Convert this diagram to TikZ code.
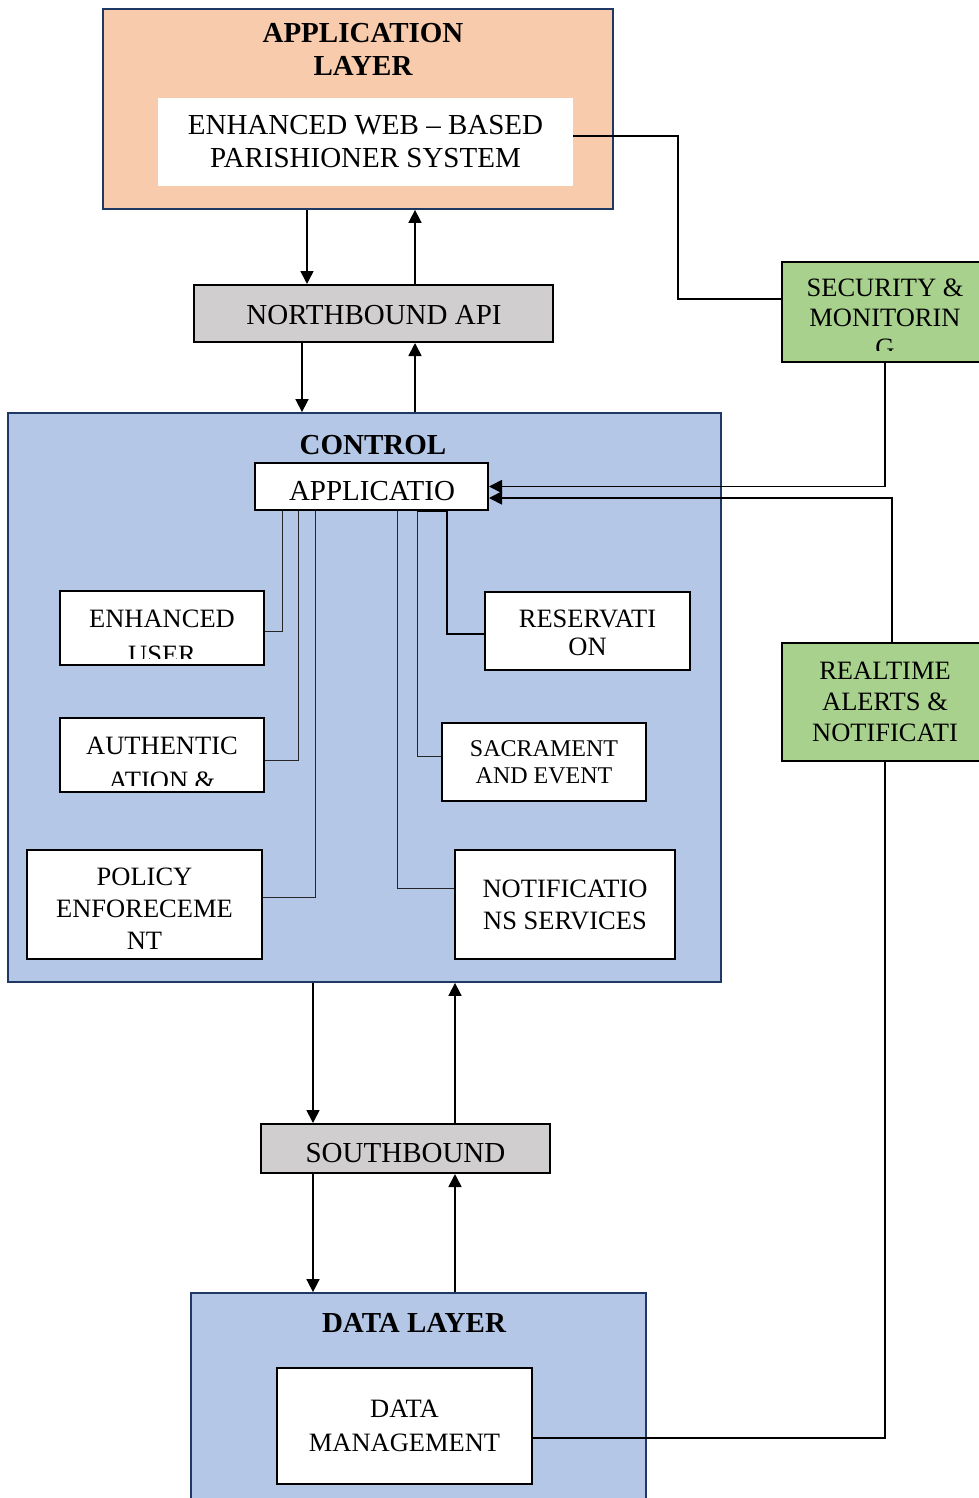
\documentclass[tikz,border=0pt]{standalone}
\usepackage{fontspec}
\setmainfont{Liberation Serif}
\usetikzlibrary{arrows.meta}
\definecolor{appfill}{HTML}{F8CBAD}
\definecolor{ctrlfill}{HTML}{B4C7E7}
\definecolor{secfill}{HTML}{A9D18E}
\definecolor{apifill}{HTML}{D0CECE}
\definecolor{layerline}{HTML}{1F3864}
\tikzset{
  layer/.style={draw=layerline, line width=1.8pt, inner sep=0pt},
  box/.style={draw=black, line width=2pt, fill=white, inner sep=0pt},
  big/.style={font=\fontsize{29}{#1}\selectfont, align=center, inner sep=0pt},
  big/.default=34,
  mid/.style={font=\fontsize{26.5}{#1}\selectfont, align=center, inner sep=0pt},
  mid/.default=31,
  title/.style={font=\fontsize{29}{#1}\selectfont\bfseries, align=center, inner sep=0pt},
  title/.default=33,
  conn/.style={line width=1.7pt},
  arr/.style={conn, -{Triangle[length=13pt, width=13pt]}},
  thinline/.style={line width=0.9pt, black!85}
}
\begin{document}
\begin{tikzpicture}[x=1pt, y=-1pt]
  \clip (0,0) rectangle (979,1498);
  \fill[white] (0,0) rectangle (979,1498);

  % application layer
  \node[layer, fill=appfill, minimum width=510pt, minimum height=200pt] (appl) at (358,109) {};
  \node[title] (appl-t) at (363,49.5) {APPLICATION\\LAYER};
  \node[fill=white, minimum width=415pt, minimum height=88pt, big=33] (web) at (365.5,142)
    {ENHANCED WEB – BASED\\PARISHIONER SYSTEM};

  % side boxes
  \node[box, fill=secfill, minimum width=206pt, minimum height=100pt] (secu) at (885,312) {};
  \begin{scope}
    \clip ([shift={(9pt,-9pt)}]secu.north west) rectangle ([shift={(-9pt,13pt)}]secu.south east);
    \node[mid=30] (secu-t) at (885,318) {SECURITY \&\\MONITORIN\\G};
  \end{scope}
  \node[box, fill=secfill, minimum width=206pt, minimum height=118pt, mid=31] (rta) at (885,702)
    {REALTIME\\ALERTS \&\\NOTIFICATI};

  % northbound
  \node[box, fill=apifill, minimum width=359pt, minimum height=57pt] (nbapi) at (373.5,313.5) {};
  \node[big] (nbapi-t) at (374,315) {NORTHBOUND API};

  % control layer
  \node[layer, fill=ctrlfill, minimum width=713pt, minimum height=569pt] (ctrl) at (364.5,697.5) {};
  \node[title] (ctrl-t) at (373,445) {CONTROL};
  \node[box, minimum width=233pt, minimum height=47pt] (appc) at (371.5,486.5) {};
  \node[big] (appc-t) at (372,491) {APPLICATIO};

  \foreach \n/\cx/\cy/\w/\h/\ty/\fs/\ld/\txt in {
    eu/162/628/204/74/636.75/26.5/36/{ENHANCED\\USER},
    au/162/755/204/74/763.5/26.5/35/{AUTHENTIC\\ATION \&},
    po/144.5/904.5/235/109/909/26.5/32/{POLICY\\ENFORECEME\\NT},
    re/587.5/631/205/78/633/26.5/28.5/{RESERVATI\\ON},
    sa/544/762/204/78/762/24/27.5/{SACRAMENT\\AND EVENT},
    no/565/904.5/220/109/905/26.5/32.5/{NOTIFICATIO\\NS SERVICES}}
    {
      \node[box, minimum width=\w pt, minimum height=\h pt] (\n) at (\cx,\cy) {};
      \begin{scope}
        \clip ([shift={(8pt,-8pt)}]\n.north west) rectangle ([shift={(-8pt,8pt)}]\n.south east);
        \node[align=center, inner sep=0pt, font=\fontsize{\fs}{\ld}\selectfont] (\n-t) at (\cx,\ty) {\txt};
      \end{scope}
    }

  % southbound and data layer
  \node[box, fill=apifill, minimum width=289pt, minimum height=49pt] (sb) at (405.5,1148.5) {};
  \node[big] (sb-t) at (405.5,1153) {SOUTHBOUND};
  \node[layer, fill=ctrlfill, minimum width=455pt, minimum height=240pt] (dl) at (418.5,1413) {};
  \node[title] (dl-t) at (414,1322.5) {DATA LAYER};
  \node[box, minimum width=255pt, minimum height=116pt, mid=34.5] (dm) at (404.5,1426)
    {DATA\\MANAGEMENT};

  % up and down arrows between layers
  \foreach \a/\b/\xd/\xu in {appl/nbapi/307/415, nbapi/ctrl/302/415, ctrl/sb/313/455, sb/dl/313/455}
    {
      \draw[arr] (\a.south -| \xd,0) -- (\b.north -| \xd,0);
      \draw[arr] (\b.north -| \xu,0) -- (\a.south -| \xu,0);
    }

  % side connectors
  \draw[conn] ([yshift=6pt]web.east) -- ++(105,0) |- ([yshift=13pt]secu.west);
  \draw[arr] (secu.south) |- (appc.east);
  \draw[arr] ([xshift=7pt]rta.north) |- ([yshift=-11.5pt]appc.east);
  \draw[conn] (rta.south) |- ([yshift=-12pt]dm.east);

  % control application to its modules
  \foreach \x/\t/\dy in {282/eu/-3, 298/au/-5, 315/po/7.5}
    \draw[thinline] (appc.south -| \x,0) |- ([yshift=\dy pt]\t.east);
  \foreach \x/\t/\dy in {397/no/16.5, 417/sa/6}
    \draw[thinline] (appc.south -| \x,0) |- ([yshift=\dy pt]\t.west);
  \draw[conn] (appc.south -| 417,0) -- (appc.south -| 447,0) |- ([yshift=-3pt]re.west);
\end{tikzpicture}
\end{document}
